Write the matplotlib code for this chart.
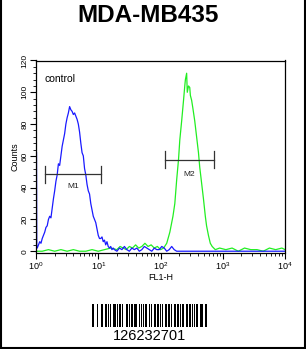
import numpy as np
import matplotlib
matplotlib.use("Agg")
import matplotlib.pyplot as plt
from matplotlib.ticker import FixedLocator, FixedFormatter, MultipleLocator, LogLocator, NullFormatter
from matplotlib.lines import Line2D

plt.rcParams['font.family'] = ['Liberation Sans', 'DejaVu Sans']
plt.rcParams['mathtext.fontset'] = 'custom'
plt.rcParams['mathtext.rm'] = 'Liberation Sans'
plt.rcParams['mathtext.it'] = 'Liberation Sans'

title = "MDA-MB435"
sample_id = "126232701"
x_label = "FL1-H"
y_label = "Counts"

# control (blue) histogram: log10(FL1-H) and counts
blue_log = [0.008, 0.012, 0.02, 0.04, 0.06, 0.08, 0.10, 0.12, 0.14, 0.16, 0.18, 0.20,
            0.22, 0.24, 0.26, 0.28, 0.30, 0.32, 0.34, 0.36, 0.38, 0.40, 0.42, 0.44,
            0.46, 0.48, 0.50, 0.52, 0.54, 0.56, 0.58, 0.60, 0.62, 0.64, 0.66, 0.68,
            0.70, 0.72, 0.74, 0.76, 0.78, 0.80, 0.82, 0.84, 0.86, 0.88, 0.90, 0.92,
            0.94, 0.96, 0.98, 1.00, 1.02, 1.04, 1.06, 1.08, 1.10, 1.12, 1.14, 1.16,
            1.18, 1.20, 1.22, 1.24, 1.26, 1.30, 1.34, 1.38, 1.42, 1.46, 1.50, 1.54,
            1.58, 1.62, 1.66, 1.70, 1.74, 1.78, 1.82, 1.86, 1.90, 1.94, 1.98, 2.02,
            2.06, 2.10, 2.14, 2.18, 2.22, 2.26, 2.30, 2.40, 2.60, 2.80, 3.00, 3.20,
            3.40, 3.60, 3.80, 4.00]
blue_counts = [62, 3, 2, 4, 6, 5, 8, 10, 12, 15, 16, 20,
               22, 21, 27, 33, 38, 44, 48, 55, 54, 60, 66, 70,
               74, 80, 84, 87, 91, 89, 88, 86, 87, 85, 83, 80,
               75, 68, 62, 60, 52, 48, 42, 38, 36, 30, 26, 22,
               20, 18, 14, 10, 8, 8, 9, 6, 7, 4, 6, 3,
               2, 3, 1, 2, 1, 0, 2, 1, 3, 1, 0, 2,
               1, 2, 0, 1, 3, 2, 1, 0, 2, 1, 1, 3,
               2, 0, 1, 3, 1, 0, 0, 0, 0, 0, 0, 0,
               0, 0, 0, 0]

# stained (green) histogram
green_log = [0.00, 0.10, 0.20, 0.30, 0.40, 0.50, 0.60, 0.70, 0.80, 0.90, 1.00, 1.10,
             1.20, 1.30, 1.35, 1.40, 1.45, 1.50, 1.55, 1.60, 1.65, 1.70, 1.75, 1.80,
             1.85, 1.90, 1.95, 2.00, 2.05, 2.10, 2.15, 2.20, 2.23, 2.26, 2.29, 2.31,
             2.34, 2.37, 2.39, 2.40, 2.42, 2.43, 2.45, 2.47, 2.48, 2.50, 2.52, 2.55,
             2.58, 2.61, 2.63, 2.66, 2.69, 2.72, 2.74, 2.77, 2.80, 2.83, 2.88, 2.95,
             3.05, 3.15, 3.25, 3.35, 3.45, 3.55, 3.65, 3.75, 3.85, 3.95, 4.00]
green_counts = [0, 0, 1, 0, 1, 0, 1, 0, 0, 1, 0, 1,
                2, 1, 3, 2, 1, 3, 2, 4, 2, 3, 5, 3,
                4, 2, 3, 1, 2, 5, 12, 22, 30, 45, 58, 70,
                82, 95, 104, 108, 112, 100, 104, 103, 98, 95, 90, 82,
                72, 62, 53, 43, 33, 22, 16, 10, 5, 3, 1, 2,
                1, 2, 0, 2, 1, 1, 0, 2, 1, 2, 1]

# markers: (label, start, end, bar height, label height)
markers = [("M1", 1.38, 11.0, 48.3, 41.0), ("M2", 117.0, 725.0, 57.7, 48.0)]
control_label = "control"

x_ticks = [1, 10, 100, 1000, 10000]
x_tick_labels = [r'$\mathregular{10^{0}}$', r'$\mathregular{10^{1}}$',
                 r'$\mathregular{10^{2}}$', r'$\mathregular{10^{3}}$',
                 r'$\mathregular{10^{4}}$']
y_ticks = [0, 20, 40, 60, 80, 100, 120]

W, H = 306, 349
fig = plt.figure(figsize=(W / 100, H / 100), dpi=100)
fig.patch.set_facecolor('white')

ax = fig.add_axes([36 / W, 1 - 252.5 / H, 249 / W, 192 / H])
ax.plot(10 ** np.array(green_log), green_counts, color='#22ee22', lw=0.9)
ax.plot(10 ** np.array(blue_log), blue_counts, color='#1a1aff', lw=0.9)

ax.set_xscale('log')
ax.set_xlim(1, 10000)
ax.set_ylim(-0.8, 120)
ax.xaxis.set_major_locator(FixedLocator(x_ticks))
ax.xaxis.set_major_formatter(FixedFormatter(x_tick_labels))
ax.xaxis.set_minor_locator(LogLocator(base=10, subs=np.arange(2, 10), numticks=20))
ax.xaxis.set_minor_formatter(NullFormatter())
ax.yaxis.set_major_locator(FixedLocator(y_ticks))
ax.yaxis.set_minor_locator(MultipleLocator(4))
ax.tick_params(axis='both', which='major', direction='out', length=4, width=0.8,
               labelsize=6, pad=1.5, color='black')
ax.tick_params(axis='x', which='major', labelsize=6.5)
ax.tick_params(axis='both', which='minor', direction='out', length=2, width=0.6,
               color='black')
for lab in ax.get_yticklabels():
    lab.set_rotation(90)
    lab.set_va('center')
for s in ax.spines.values():
    s.set_linewidth(0.9)
    s.set_color('black')

ax.set_xlabel(x_label, fontsize=6.5, labelpad=1)
ax.set_ylabel(y_label, fontsize=6.5, labelpad=1)

ax.text(1.38, 108.5, control_label, fontsize=7.5, ha='left', va='center')

for name, x0, x1, yb, yl in markers:
    ax.plot([x0, x1], [yb, yb], color='#333333', lw=0.9)
    ax.plot([x0, x0], [yb - 5.4, yb + 5.4], color='#333333', lw=0.9)
    ax.plot([x1, x1], [yb - 5.4, yb + 5.4], color='#333333', lw=0.9)
    ax.text(np.sqrt(x0 * x1), yl, name, fontsize=6, ha='center', va='center',
            color='#222222')

fig.text(148 / W, 1 - 16 / H, title, fontsize=17.5, fontweight='bold',
         ha='center', va='center')

# barcode
bits = ("11010010000110011101011001110010110110001110101100111001101011011001"
        "10100111011001010011101100100110111010011001110110100101100011101011")
bax = fig.add_axes([92 / W, 1 - 327 / H, 115 / W, 23 / H])
bax.imshow(np.array([[int(b) for b in bits]]), cmap='gray_r', aspect='auto',
           interpolation='nearest', vmin=0, vmax=1)
bax.axis('off')
fig.text(150 / W, 1 - 336 / H, sample_id, fontsize=10.5, ha='center', va='center')

# outer frame (left, right, bottom)
fig.add_artist(Line2D([0.7 / W, 0.7 / W], [0, 1], transform=fig.transFigure,
                      color='black', lw=1.5))
fig.add_artist(Line2D([304.5 / W, 304.5 / W], [0, 1], transform=fig.transFigure,
                      color='black', lw=1.5))
fig.add_artist(Line2D([0, 1], [1 - 347.5 / H, 1 - 347.5 / H], transform=fig.transFigure,
                      color='black', lw=1.5))

fig.savefig("out.png", dpi=100, facecolor='white')
